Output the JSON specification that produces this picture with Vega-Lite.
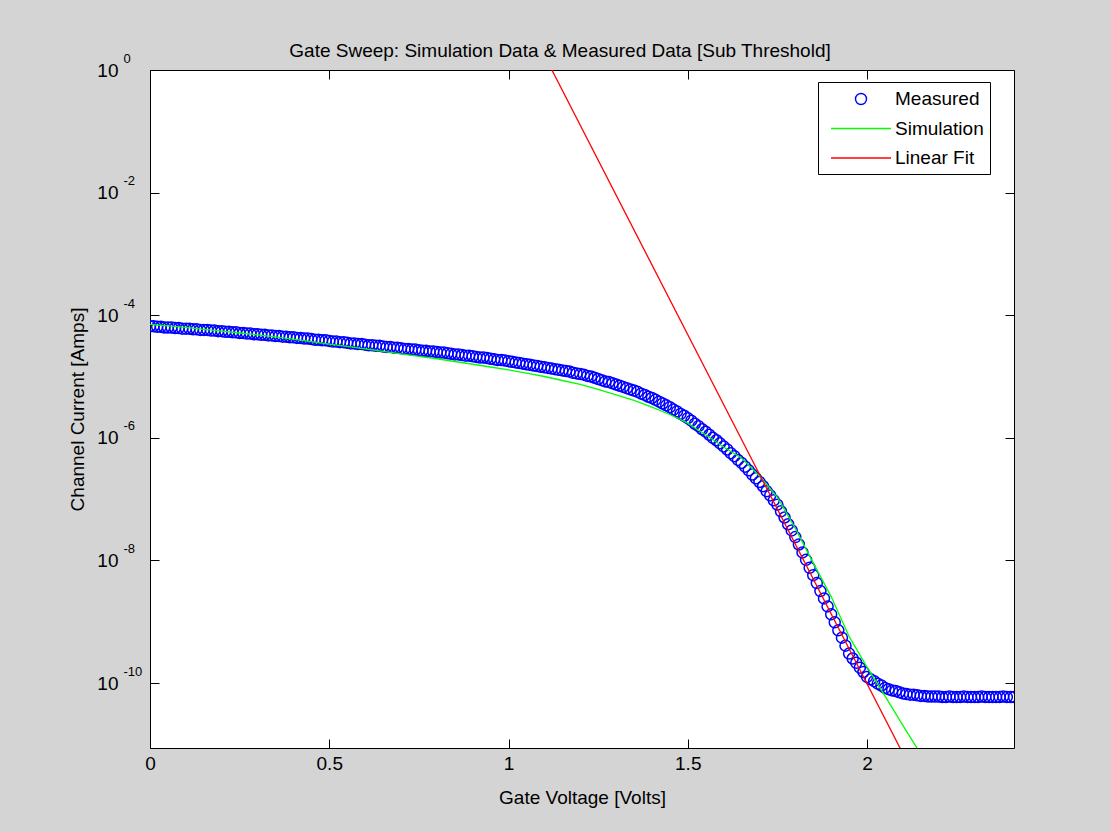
{
  "$schema": "https://vega.github.io/schema/vega-lite/v6.json",
  "width": 864,
  "height": 678,
  "autosize": "none",
  "padding": {"left": 150, "top": 70, "right": 97, "bottom": 84},
  "background": "#d4d4d4",
  "config": {
    "view": {"stroke": "#000000", "strokeWidth": 1, "fill": "#ffffff"},
    "font": "Liberation Sans",
    "axis": {
      "grid": false,
      "domain": false,
      "labelFont": "Liberation Sans",
      "labelFontSize": 19,
      "labelColor": "#000000",
      "tickColor": "#000000",
      "titleFont": "Liberation Sans",
      "titleFontSize": 19,
      "titleFontWeight": "normal",
      "titleColor": "#000000",
      "labelFlush": false,
      "labelOverlap": false
    }
  },
  "title": {
    "text": "Gate Sweep: Simulation Data & Measured Data [Sub Threshold]",
    "font": "Liberation Sans",
    "fontSize": 19,
    "fontWeight": "normal",
    "color": "#000000",
    "offset": -24,
    "baseline": "alphabetic",
    "dx": -22
  },
  "datasets": {
    "measured": [
      {"v":0.00,"i":6.607e-5},{"v":0.01,"i":6.607e-5},{"v":0.02,"i":6.457e-5},{"v":0.03,"i":6.457e-5},{"v":0.04,"i":6.310e-5},
      {"v":0.05,"i":6.310e-5},{"v":0.06,"i":6.310e-5},{"v":0.07,"i":6.166e-5},{"v":0.08,"i":6.166e-5},{"v":0.09,"i":6.026e-5},
      {"v":0.10,"i":6.026e-5},{"v":0.11,"i":6.026e-5},{"v":0.12,"i":5.888e-5},{"v":0.13,"i":5.888e-5},{"v":0.14,"i":5.754e-5},
      {"v":0.15,"i":5.754e-5},{"v":0.16,"i":5.754e-5},{"v":0.17,"i":5.623e-5},{"v":0.18,"i":5.623e-5},{"v":0.19,"i":5.495e-5},
      {"v":0.20,"i":5.495e-5},{"v":0.21,"i":5.370e-5},{"v":0.22,"i":5.370e-5},{"v":0.23,"i":5.248e-5},{"v":0.24,"i":5.248e-5},
      {"v":0.25,"i":5.129e-5},{"v":0.26,"i":5.129e-5},{"v":0.27,"i":5.012e-5},{"v":0.28,"i":5.012e-5},{"v":0.29,"i":4.898e-5},
      {"v":0.30,"i":4.898e-5},{"v":0.31,"i":4.786e-5},{"v":0.32,"i":4.786e-5},{"v":0.33,"i":4.677e-5},{"v":0.34,"i":4.677e-5},
      {"v":0.35,"i":4.571e-5},{"v":0.36,"i":4.571e-5},{"v":0.37,"i":4.467e-5},{"v":0.38,"i":4.467e-5},{"v":0.39,"i":4.365e-5},
      {"v":0.40,"i":4.365e-5},{"v":0.41,"i":4.266e-5},{"v":0.42,"i":4.266e-5},{"v":0.43,"i":4.169e-5},{"v":0.44,"i":4.169e-5},
      {"v":0.45,"i":4.074e-5},{"v":0.46,"i":3.981e-5},{"v":0.47,"i":3.981e-5},{"v":0.48,"i":3.890e-5},{"v":0.49,"i":3.890e-5},
      {"v":0.50,"i":3.802e-5},{"v":0.51,"i":3.715e-5},{"v":0.52,"i":3.715e-5},{"v":0.53,"i":3.631e-5},{"v":0.54,"i":3.631e-5},
      {"v":0.55,"i":3.548e-5},{"v":0.56,"i":3.467e-5},{"v":0.57,"i":3.467e-5},{"v":0.58,"i":3.388e-5},{"v":0.59,"i":3.388e-5},
      {"v":0.60,"i":3.311e-5},{"v":0.61,"i":3.236e-5},{"v":0.62,"i":3.236e-5},{"v":0.63,"i":3.162e-5},{"v":0.64,"i":3.162e-5},
      {"v":0.65,"i":3.090e-5},{"v":0.66,"i":3.020e-5},{"v":0.67,"i":3.020e-5},{"v":0.68,"i":2.951e-5},{"v":0.69,"i":2.951e-5},
      {"v":0.70,"i":2.884e-5},{"v":0.71,"i":2.818e-5},{"v":0.72,"i":2.818e-5},{"v":0.73,"i":2.754e-5},{"v":0.74,"i":2.754e-5},
      {"v":0.75,"i":2.692e-5},{"v":0.76,"i":2.630e-5},{"v":0.77,"i":2.630e-5},{"v":0.78,"i":2.570e-5},{"v":0.79,"i":2.570e-5},
      {"v":0.80,"i":2.512e-5},{"v":0.81,"i":2.455e-5},{"v":0.82,"i":2.455e-5},{"v":0.83,"i":2.399e-5},{"v":0.84,"i":2.344e-5},
      {"v":0.85,"i":2.291e-5},{"v":0.86,"i":2.291e-5},{"v":0.87,"i":2.239e-5},{"v":0.88,"i":2.188e-5},{"v":0.89,"i":2.188e-5},
      {"v":0.90,"i":2.138e-5},{"v":0.91,"i":2.089e-5},{"v":0.92,"i":2.042e-5},{"v":0.93,"i":2.042e-5},{"v":0.94,"i":1.995e-5},
      {"v":0.95,"i":1.950e-5},{"v":0.96,"i":1.905e-5},{"v":0.97,"i":1.862e-5},{"v":0.98,"i":1.862e-5},{"v":0.99,"i":1.820e-5},
      {"v":1.00,"i":1.778e-5},{"v":1.01,"i":1.738e-5},{"v":1.02,"i":1.698e-5},{"v":1.03,"i":1.660e-5},{"v":1.04,"i":1.622e-5},
      {"v":1.05,"i":1.585e-5},{"v":1.06,"i":1.549e-5},{"v":1.07,"i":1.514e-5},{"v":1.08,"i":1.479e-5},{"v":1.09,"i":1.445e-5},
      {"v":1.10,"i":1.413e-5},{"v":1.11,"i":1.380e-5},{"v":1.12,"i":1.349e-5},{"v":1.13,"i":1.318e-5},{"v":1.14,"i":1.288e-5},
      {"v":1.15,"i":1.259e-5},{"v":1.16,"i":1.230e-5},{"v":1.17,"i":1.202e-5},{"v":1.18,"i":1.148e-5},{"v":1.19,"i":1.122e-5},
      {"v":1.20,"i":1.096e-5},{"v":1.21,"i":1.072e-5},{"v":1.22,"i":1.023e-5},{"v":1.23,"i":1.000e-5},{"v":1.24,"i":9.550e-6},
      {"v":1.25,"i":9.120e-6},{"v":1.26,"i":8.710e-6},{"v":1.27,"i":8.318e-6},{"v":1.28,"i":8.128e-6},{"v":1.29,"i":7.762e-6},
      {"v":1.30,"i":7.413e-6},{"v":1.31,"i":7.079e-6},{"v":1.32,"i":6.761e-6},{"v":1.33,"i":6.457e-6},{"v":1.34,"i":6.166e-6},
      {"v":1.35,"i":5.888e-6},{"v":1.36,"i":5.623e-6},{"v":1.37,"i":5.248e-6},{"v":1.38,"i":5.012e-6},{"v":1.39,"i":4.677e-6},
      {"v":1.40,"i":4.467e-6},{"v":1.41,"i":4.169e-6},{"v":1.42,"i":3.890e-6},{"v":1.43,"i":3.631e-6},{"v":1.44,"i":3.388e-6},
      {"v":1.45,"i":3.162e-6},{"v":1.46,"i":2.884e-6},{"v":1.47,"i":2.692e-6},{"v":1.48,"i":2.455e-6},{"v":1.49,"i":2.291e-6},
      {"v":1.50,"i":2.089e-6},{"v":1.51,"i":1.905e-6},{"v":1.52,"i":1.698e-6},{"v":1.53,"i":1.549e-6},{"v":1.54,"i":1.380e-6},
      {"v":1.55,"i":1.259e-6},{"v":1.56,"i":1.122e-6},{"v":1.57,"i":1.000e-6},{"v":1.58,"i":9.120e-7},{"v":1.59,"i":8.128e-7},
      {"v":1.60,"i":7.244e-7},{"v":1.61,"i":6.457e-7},{"v":1.62,"i":5.623e-7},{"v":1.63,"i":5.012e-7},{"v":1.64,"i":4.365e-7},
      {"v":1.65,"i":3.890e-7},{"v":1.66,"i":3.388e-7},{"v":1.67,"i":2.951e-7},{"v":1.68,"i":2.512e-7},{"v":1.69,"i":2.188e-7},
      {"v":1.70,"i":1.905e-7},{"v":1.71,"i":1.622e-7},{"v":1.72,"i":1.349e-7},{"v":1.73,"i":1.148e-7},{"v":1.74,"i":9.550e-8},
      {"v":1.75,"i":8.128e-8},{"v":1.76,"i":6.310e-8},{"v":1.77,"i":5.012e-8},{"v":1.78,"i":3.890e-8},{"v":1.79,"i":3.090e-8},
      {"v":1.80,"i":2.399e-8},{"v":1.81,"i":1.820e-8},{"v":1.82,"i":1.349e-8},{"v":1.83,"i":1.023e-8},{"v":1.84,"i":7.586e-9},
      {"v":1.85,"i":5.754e-9},{"v":1.86,"i":4.266e-9},{"v":1.87,"i":3.162e-9},{"v":1.88,"i":2.399e-9},{"v":1.89,"i":1.778e-9},
      {"v":1.90,"i":1.318e-9},{"v":1.91,"i":9.772e-10},{"v":1.92,"i":7.244e-10},{"v":1.93,"i":5.495e-10},{"v":1.94,"i":4.074e-10},
      {"v":1.95,"i":3.020e-10},{"v":1.96,"i":2.512e-10},{"v":1.97,"i":2.138e-10},{"v":1.98,"i":1.778e-10},{"v":1.99,"i":1.514e-10},
      {"v":2.00,"i":1.259e-10},{"v":2.01,"i":1.148e-10},{"v":2.02,"i":1.072e-10},{"v":2.03,"i":9.772e-11},{"v":2.04,"i":9.120e-11},
      {"v":2.05,"i":8.318e-11},{"v":2.06,"i":7.943e-11},{"v":2.07,"i":7.586e-11},{"v":2.08,"i":7.413e-11},{"v":2.09,"i":7.079e-11},
      {"v":2.10,"i":6.761e-11},{"v":2.11,"i":6.607e-11},{"v":2.12,"i":6.457e-11},{"v":2.13,"i":6.457e-11},{"v":2.14,"i":6.310e-11},
      {"v":2.15,"i":6.166e-11},{"v":2.16,"i":6.166e-11},{"v":2.17,"i":6.026e-11},{"v":2.18,"i":6.026e-11},{"v":2.19,"i":6.026e-11},
      {"v":2.20,"i":6.026e-11},{"v":2.21,"i":5.888e-11},{"v":2.22,"i":5.888e-11},{"v":2.23,"i":6.026e-11},{"v":2.24,"i":5.888e-11},
      {"v":2.25,"i":5.888e-11},{"v":2.26,"i":5.888e-11},{"v":2.27,"i":6.026e-11},{"v":2.28,"i":5.888e-11},{"v":2.29,"i":5.888e-11},
      {"v":2.30,"i":5.888e-11},{"v":2.31,"i":5.888e-11},{"v":2.32,"i":6.026e-11},{"v":2.33,"i":5.888e-11},{"v":2.34,"i":5.888e-11},
      {"v":2.35,"i":5.888e-11},{"v":2.36,"i":5.888e-11},{"v":2.37,"i":5.888e-11},{"v":2.38,"i":6.026e-11},{"v":2.39,"i":5.888e-11},
      {"v":2.40,"i":5.888e-11},{"v":2.41,"i":5.888e-11}
    ],
    "simulation": [
      {"v":0.00,"i":7.079e-5},{"v":0.05,"i":6.683e-5},{"v":0.10,"i":6.310e-5},{"v":0.15,"i":5.888e-5},{"v":0.20,"i":5.495e-5},
      {"v":0.25,"i":5.129e-5},{"v":0.30,"i":4.786e-5},{"v":0.35,"i":4.416e-5},{"v":0.40,"i":4.074e-5},{"v":0.45,"i":3.715e-5},
      {"v":0.50,"i":3.388e-5},{"v":0.55,"i":3.090e-5},{"v":0.60,"i":2.818e-5},{"v":0.65,"i":2.570e-5},{"v":0.70,"i":2.344e-5},
      {"v":0.75,"i":2.138e-5},{"v":0.80,"i":1.950e-5},{"v":0.85,"i":1.758e-5},{"v":0.90,"i":1.585e-5},{"v":0.95,"i":1.429e-5},
      {"v":1.00,"i":1.288e-5},{"v":1.05,"i":1.135e-5},{"v":1.10,"i":1.000e-5},{"v":1.15,"i":8.610e-6},{"v":1.20,"i":7.413e-6},
      {"v":1.25,"i":6.166e-6},{"v":1.30,"i":5.012e-6},{"v":1.35,"i":4.074e-6},{"v":1.40,"i":3.162e-6},{"v":1.45,"i":2.399e-6},
      {"v":1.50,"i":1.738e-6},{"v":1.55,"i":1.122e-6},{"v":1.60,"i":7.079e-7},{"v":1.65,"i":4.677e-7},{"v":1.70,"i":2.399e-7},
      {"v":1.75,"i":1.072e-7},{"v":1.80,"i":3.311e-8},{"v":1.85,"i":9.120e-9},{"v":1.90,"i":2.570e-9},{"v":1.95,"i":5.754e-10},
      {"v":2.00,"i":1.820e-10},{"v":2.05,"i":6.166e-11},{"v":2.10,"i":2.042e-11},{"v":2.15,"i":6.918e-12}
    ],
    "fit": [
      {"v":1.121,"i":1.0},{"v":2.10,"i":7.08e-12}
    ]
  },
  "layer": [
    {
      "data": {"name": "measured"},
      "mark": {"type": "point", "filled": false, "size": 400, "strokeWidth": 1.5, "opacity": 1, "clip": true},
      "encoding": {
        "x": {
          "field": "v", "type": "quantitative",
          "scale": {"domain": [0, 2.41], "nice": false, "zero": false},
          "axis": {"orient": "bottom", "values": [0, 0.5, 1, 1.5, 2], "labelExpr": "'' + datum.value", "tickSize": -9, "labelPadding": 15, "title": "Gate Voltage [Volts]", "titlePadding": 15}
        },
        "y": {
          "field": "i", "type": "quantitative",
          "scale": {"type": "log", "domain": [8.71e-12, 1], "nice": false},
          "axis": {"orient": "left", "values": [1e-10, 1e-8, 1e-6, 1e-4, 1e-2, 1], "labelExpr": "'10'", "tickSize": -9, "labelPadding": 41, "labelBaseline": "middle", "title": "Channel Current [Amps]", "titlePadding": 9}
        },
        "shape": {
          "datum": "Measured",
          "scale": {"domain": ["Measured", "Simulation", "Linear Fit"], "range": ["M-0.55,0A0.55,0.55,0,1,1,0.55,0A0.55,0.55,0,1,1,-0.55,0Z", "M-3,0H3", "M-3,0H3"]}
        },
        "color": {
          "datum": "Measured",
          "scale": {"domain": ["Measured", "Simulation", "Linear Fit"], "range": ["#0000ff", "#00ff00", "#ff0000"]},
          "legend": {
            "orient": "none", "legendX": 668, "legendY": 12, "title": null,
            "padding": 6, "fillColor": "#ffffff", "strokeColor": "#000000",
            "labelFont": "Liberation Sans", "labelFontSize": 19, "labelColor": "#000000",
            "symbolSize": 400, "symbolOffset": 26, "labelOffset": 23, "rowPadding": 8.5,
            "symbolStrokeWidth": 1.4
          }
        }
      }
    },
    {
      "data": {"name": "simulation"},
      "mark": {"type": "line", "strokeWidth": 1.3, "clip": true},
      "encoding": {
        "x": {"field": "v", "type": "quantitative", "axis": {"orient": "top", "values": [0, 0.5, 1, 1.5, 2], "labels": false, "tickSize": -9, "title": null}},
        "y": {"field": "i", "type": "quantitative", "axis": {"orient": "right", "values": [1e-10, 1e-8, 1e-6, 1e-4, 1e-2, 1], "labels": false, "tickSize": -9, "title": null}},
        "color": {"datum": "Simulation"}
      }
    },
    {
      "data": {"name": "fit"},
      "mark": {"type": "line", "strokeWidth": 1.3, "clip": true},
      "encoding": {
        "x": {"field": "v", "type": "quantitative", "axis": null},
        "y": {"field": "i", "type": "quantitative", "axis": {"orient": "left", "values": [1e-10, 1e-8, 1e-6, 1e-4, 1e-2, 1], "labelExpr": "'' + round(log(datum.value) / LN10)", "ticks": false, "labelAlign": "left", "labelBaseline": "middle", "labelPadding": 27, "labelOffset": -12, "labelFontSize": 13, "title": null}},
        "color": {"datum": "Linear Fit"}
      }
    }
  ],
  "resolve": {"axis": {"x": "independent", "y": "independent"}}
}
